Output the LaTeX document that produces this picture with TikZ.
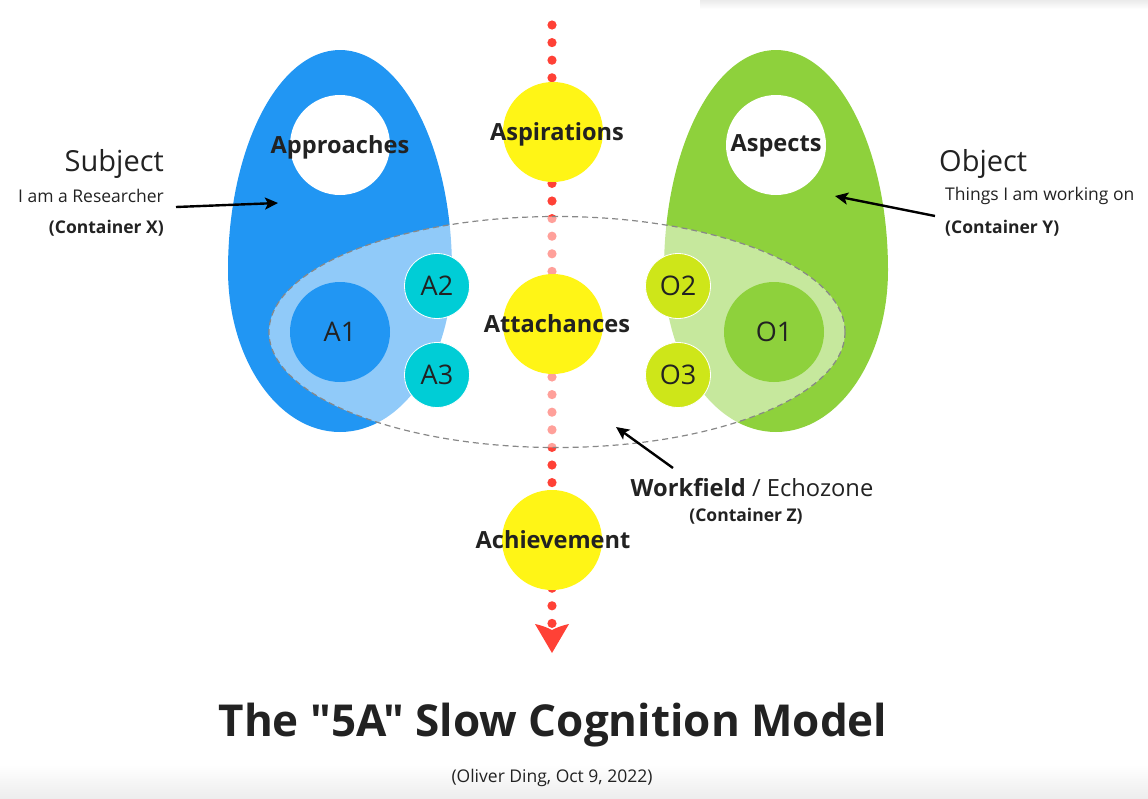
\documentclass[tikz,border=0pt]{standalone}
\usepackage{fontspec}
\setmainfont{Open Sans}
\newfontfamily\plainfont{Open Sans}
\usetikzlibrary{arrows.meta}
\definecolor{eggblue}{HTML}{2196F3}
\definecolor{egggreen}{HTML}{8ED13C}
\definecolor{acyan}{HTML}{00CDD6}
\definecolor{olime}{HTML}{CEE619}
\definecolor{sun}{HTML}{FFF516}
\definecolor{dotred}{HTML}{FF4136}
\definecolor{ink}{HTML}{222222}
\definecolor{dashgray}{HTML}{888888}
\begin{document}
\begin{tikzpicture}[x=1pt,y=-1pt,
  every node/.style={text=ink, inner sep=0pt},
  every label/.style={text=ink, inner sep=0pt, font=\fontsize{23.6}{28}\selectfont\bfseries},
  hole/.style={circle, fill=white, minimum size=100pt},
  sunball/.style={circle, fill=sun, minimum size=100pt},
  bigball/.style={circle, minimum size=100pt, font=\fontsize{27}{31}\selectfont},
  smallball/.style={circle, draw=white, line width=0.8pt, minimum size=65pt, font=\fontsize{27}{31}\selectfont},
  bigtext/.style={font=\fontsize{29}{33}\selectfont},
  midtext/.style={font=\fontsize{17.5}{21}\selectfont},
  cont/.style={font=\fontsize{17.5}{21}\selectfont\bfseries},
  pointer/.style={draw=black, line width=2.4pt, -{Stealth[length=13pt,width=12pt,inset=3pt]}}
]
\useasboundingbox (0,0) rectangle (1148,798);
% faint shadows
\shade[top color=black!8, bottom color=white] (700,0) rectangle (1148,9);
\shade[top color=white, bottom color=black!7] (0,765) rectangle (1148,798);
% eggs
\fill[eggblue] (228,270) arc[start angle=180,end angle=360,x radius=112,y radius=220]
  arc[start angle=0,end angle=180,x radius=112,y radius=162] -- cycle;
\fill[egggreen] (664,270) arc[start angle=180,end angle=360,x radius=112,y radius=220]
  arc[start angle=0,end angle=180,x radius=112,y radius=162] -- cycle;
\node[hole, label={[yshift=-2pt]center:Approaches}] (approaches) at (340,145) {};
\node[hole, label={[yshift=-1pt]center:Aspects}] (aspects) at (776,145) {};
% dotted axis
\foreach \i in {0,...,34} \fill[dotred] (552,{25+17.6*\i}) circle[radius=4.6];
\fill[dotred] (535,624) -- (552,653) -- (569,624) .. controls (560,626) and (556,628) .. (552,630)
  .. controls (548,628) and (544,626) .. (535,624) -- cycle;
% workfield overlay
\fill[white, fill opacity=0.5] (557,332) ellipse[x radius=288, y radius=115.5];
\draw[dashgray, line width=1.2pt, dash pattern=on 6pt off 4pt] (557,332) ellipse[x radius=288, y radius=115.5];
% central circles
\node[sunball, label={[xshift=4pt, yshift=-2pt]center:Aspirations}] (aspirations) at (553,132) {};
\node[sunball, label={[xshift=4pt]center:Attachances}] (attachances) at (553,324) {};
\node[sunball, label={[xshift=1pt]center:Achievement}] (achievement) at (552,540) {};
% inner circles
\node[bigball, fill=eggblue] (a1) at (340,332) {A1};
\node[smallball, fill=acyan] (a2) at (437,286) {A2};
\node[smallball, fill=acyan] (a3) at (437,375) {A3};
\node[bigball, fill=egggreen] (o1) at (774,332) {O1};
\node[smallball, fill=olime] (o2) at (678,286) {O2};
\node[smallball, fill=olime] (o3) at (678,375) {O3};
% subject labels
\node[bigtext, anchor=east] (subject) at (164,164) {Subject};
\node[midtext, anchor=east] (researcher) at (164,196) {I am a Researcher};
\node[cont, anchor=east] (contx) at (164,228) {(Container X)};
\coordinate (sx0) at (176,207);
\coordinate (sx1) at (278,203);
\draw[pointer] (sx0) -- (sx1);
% object labels
\node[bigtext, anchor=west] (object) at (939,164) {Object};
\node[midtext, anchor=west] (things) at (945,196) {Things I am working on};
\node[cont, anchor=west] (conty) at (945,228) {(Container Y)};
\coordinate (oy0) at (935,216);
\coordinate (oy1) at (835,196);
\draw[pointer] (oy0) -- (oy1);
% workfield labels
\node[font=\fontsize{23.7}{28}\selectfont] (workfield) at (752,488) {\textbf{Workfield} / Echozone};
\node[cont] (contz) at (746,516) {(Container Z)};
\coordinate (wz0) at (673,468);
\coordinate (wz1) at (616,427);
\draw[pointer] (wz0) -- (wz1);
% title
\node[font=\fontsize{44}{50}\plainfont\bfseries] (title) at (553,725) {The "5A" Slow Cognition Model};
\node[font=\fontsize{17.5}{21}\selectfont] (author) at (552,778) {(Oliver Ding, Oct 9, 2022)};
\end{tikzpicture}
\end{document}
